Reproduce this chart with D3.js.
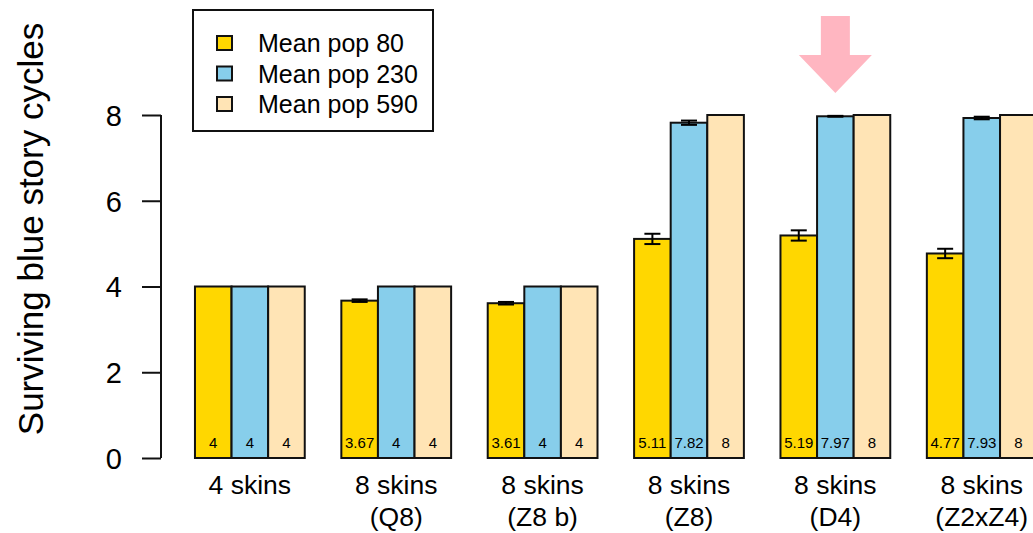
<!DOCTYPE html>
<html>
<head>
<meta charset="utf-8">
<script src="https://cdn.jsdelivr.net/npm/d3@7"></script>
<style>
  html, body { margin: 0; padding: 0; background: #fff; }
  svg { display: block; font-family: "Liberation Sans", Arial, sans-serif; }
</style>
</head>
<body>
<svg id="chart" width="1033" height="533"></svg>
<script>
// Scenario groups (two-line labels)
const groupLine1 = ["4 skins", "8 skins", "8 skins", "8 skins", "8 skins", "8 skins"];
const groupLine2 = ["", "(Q8)", "(Z8 b)", "(Z8)", "(D4)", "(Z2xZ4)"];

// Series
const seriesNames = ["Mean pop 80", "Mean pop 230", "Mean pop 590"];
const seriesColors = ["#FFD700", "#87CEEB", "#FFE4B5"];

// Mean surviving cycles per group, one array per series
const pop80  = [4, 3.67, 3.61, 5.11, 5.19, 4.77];
const pop230 = [4, 4, 4, 7.82, 7.97, 7.93];
const pop590 = [4, 4, 4, 8, 8, 8];

// Standard errors per group, one array per series
const err80  = [0, 0.03, 0.03, 0.12, 0.12, 0.11];
const err230 = [0, 0, 0, 0.05, 0.01, 0.03];
const err590 = [0, 0, 0, 0, 0, 0];

const yTicks = [0, 2, 4, 6, 8];
const highlightGroup = 4;

const values = [pop80, pop230, pop590];
const errors = [err80, err230, err590];

const svg = d3.select("#chart");

// Bar-unit scale: each group holds 3 bars followed by a 1-bar gap,
// with a 1-bar gap before the first group.
const x = d3.scaleLinear().domain([0.08, 24.92]).range([161.3, 1070.3]);
const y = d3.scaleLinear().domain([0, 8]).range([458, 115]);

const barLeft = (g, s) => 1 + 4 * g + s;

// Bars
const bars = [];
values.forEach((arr, s) => arr.forEach((v, g) => bars.push({ g, s, v, e: errors[s][g] })));

svg.append("g").selectAll("rect").data(bars).join("rect")
  .attr("x", d => x(barLeft(d.g, d.s)))
  .attr("y", d => y(d.v))
  .attr("width", d => x(barLeft(d.g, d.s) + 1) - x(barLeft(d.g, d.s)))
  .attr("height", d => y(0) - y(d.v))
  .attr("fill", d => seriesColors[d.s])
  .attr("stroke", "#111")
  .attr("stroke-width", 2);

// Error bars
const eb = svg.append("g").attr("stroke", "#000").attr("stroke-width", 2);
bars.filter(d => d.e > 0).forEach(d => {
  const cx = x(barLeft(d.g, d.s) + 0.5);
  const hw = 8;
  eb.append("line").attr("x1", cx).attr("x2", cx).attr("y1", y(d.v + d.e)).attr("y2", y(d.v - d.e));
  eb.append("line").attr("x1", cx - hw).attr("x2", cx + hw).attr("y1", y(d.v + d.e)).attr("y2", y(d.v + d.e));
  eb.append("line").attr("x1", cx - hw).attr("x2", cx + hw).attr("y1", y(d.v - d.e)).attr("y2", y(d.v - d.e));
});

// Value labels at the foot of each bar
svg.append("g").selectAll("text").data(bars).join("text")
  .attr("x", d => x(barLeft(d.g, d.s) + 0.5))
  .attr("y", 448)
  .attr("text-anchor", "middle")
  .attr("font-size", 15)
  .attr("fill", "#000")
  .text(d => String(d.v));

// Y axis
const yAxis = d3.axisLeft(y).tickValues(yTicks).tickSize(19).tickPadding(20).tickFormat(d3.format("d"));
const ga = svg.append("g").attr("transform", "translate(161,0)").call(yAxis);
ga.select(".domain").attr("stroke", "#111").attr("stroke-width", 2).attr("d", `M0,${y(8)}V${y(0)}`);
ga.selectAll(".tick line").attr("stroke", "#111").attr("stroke-width", 2);
ga.selectAll(".tick text").attr("font-size", 29).attr("fill", "#000")
  .attr("font-family", "Liberation Sans, Arial, sans-serif").attr("dy", "0.36em");

// Y axis title
svg.append("text")
  .attr("transform", `translate(43,229) rotate(-90)`)
  .attr("text-anchor", "middle")
  .attr("font-size", 35)
  .attr("fill", "#000")
  .text("Surviving blue story cycles");

// Group labels
const gl = svg.append("g").attr("font-size", 26.5).attr("fill", "#000").attr("text-anchor", "middle");
groupLine1.forEach((t, g) => {
  const cx = x(barLeft(g, 1) + 0.5);
  gl.append("text").attr("x", cx).attr("y", 494).text(t);
  if (groupLine2[g]) gl.append("text").attr("x", cx).attr("y", 526).text(groupLine2[g]);
});

// Legend
const lg = svg.append("g");
lg.append("rect").attr("x", 193).attr("y", 10).attr("width", 240).attr("height", 121)
  .attr("fill", "#fff").attr("stroke", "#111").attr("stroke-width", 2);
seriesNames.forEach((n, i) => {
  const cy = 43 + i * 30.5;
  lg.append("rect").attr("x", 217).attr("y", cy - 7).attr("width", 15).attr("height", 14)
    .attr("fill", seriesColors[i]).attr("stroke", "#111").attr("stroke-width", 2);
  lg.append("text").attr("x", 258).attr("y", cy + 9).attr("font-size", 25).attr("fill", "#000").text(n);
});

// Highlight arrow above the chosen group
const ax = x(barLeft(highlightGroup, 1) + 0.5);
svg.append("path")
  .attr("d", `M${ax - 14.5},16 H${ax + 14.5} V55 H${ax + 36.5} L${ax},93 L${ax - 36.5},55 H${ax - 14.5} Z`)
  .attr("fill", "#FFB6C1");
</script>
</body>
</html>
